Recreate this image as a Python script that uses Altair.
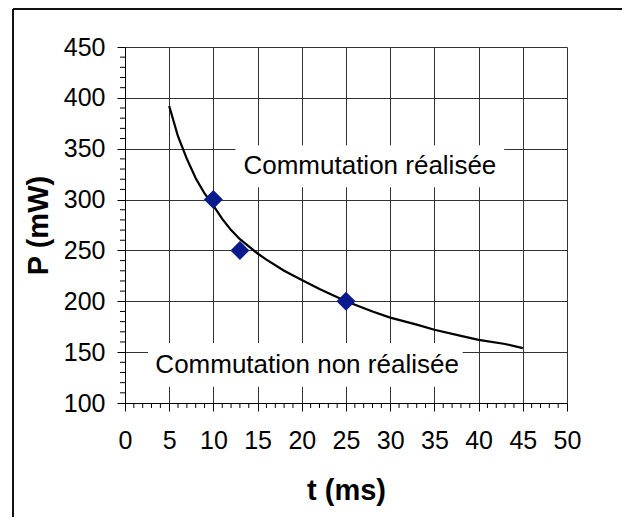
import altair as alt
import pandas as pd

# ---- data ----
t_curve = [5, 6, 7, 8, 9, 10, 11, 12, 13, 14, 15, 16, 18, 20, 22, 25, 28, 30, 33, 35, 38, 40, 43, 45]
p_curve = [392, 362, 340, 321, 306, 294, 281, 270, 261, 254, 247, 241, 230, 221, 212, 200, 190, 184, 177, 172, 166, 162, 158, 154]

t_meas = [10, 13, 25]
p_meas = [300, 250, 200]

x_ticks = [0, 5, 10, 15, 20, 25, 30, 35, 40, 45, 50]
y_ticks = [100, 150, 200, 250, 300, 350, 400, 450]
x_minor = [v for v in range(0, 51) if v % 5]
y_minor = [v for v in range(100, 451, 10) if v % 50]

labels = ["Commutation réalisée", "Commutation non réalisée"]
label_t = [27.7, 20.6]
label_p = [333, 137]
box_t1 = [12.5, 2.6]
box_t2 = [42.9, 38.2]
box_p1 = [312, 116]
box_p2 = [353.5, 159]

FONT = "Liberation Sans"

curve_df = pd.DataFrame({"t": t_curve, "p": p_curve})
meas_df = pd.DataFrame({"t": t_meas, "p": p_meas})
lab_df = pd.DataFrame({"label": labels, "t": label_t, "p": label_p})
box_df = pd.DataFrame({"t": box_t1, "t2": box_t2, "p": box_p1, "p2": box_p2})
xm_df = pd.DataFrame({"t": x_minor})
ym_df = pd.DataFrame({"p": y_minor})

xscale = alt.Scale(domain=[0, 50], nice=False, zero=False)
yscale = alt.Scale(domain=[100, 450], nice=False, zero=False)

xaxis = alt.Axis(values=x_ticks, grid=True, gridColor="#333333", gridWidth=1, gridOpacity=1,
                 tickSize=8, tickColor="#000", tickWidth=1, domainColor="#000", domainWidth=1,
                 labelFontSize=25, labelFont=FONT, labelColor="#000", labelPadding=17,
                 labelFlush=False, labelOverlap=False,
                 title="t (ms)", titleFont=FONT, titleFontSize=29, titleFontWeight="bold",
                 titleColor="#000", titleBaseline="middle", titleY=87)
yaxis = alt.Axis(values=y_ticks, grid=True, gridColor="#333333", gridWidth=1, gridOpacity=1,
                 tickSize=8, tickColor="#000", tickWidth=1, domainColor="#000", domainWidth=1,
                 labelFontSize=25, labelFont=FONT, labelColor="#000", labelPadding=12,
                 labelFlush=False, labelOverlap=False,
                 title="P (mW)", titleFont=FONT, titleFontSize=29, titleFontWeight="bold",
                 titleColor="#000", titleAngle=270, titleBaseline="middle", titleX=-87, titleY=178)

W, H = 442, 356

curve = alt.Chart(curve_df).mark_line(color="#000", strokeWidth=2.25).encode(
    x=alt.X("t:Q", scale=xscale, axis=xaxis),
    y=alt.Y("p:Q", scale=yscale, axis=yaxis),
)

boxes = alt.Chart(box_df).mark_rect(color="white", opacity=1).encode(
    x=alt.X("t:Q", scale=xscale), x2="t2:Q",
    y=alt.Y("p:Q", scale=yscale), y2="p2:Q",
)

points = alt.Chart(meas_df).mark_point(shape="diamond", filled=True, size=360,
                                       color="#0A1A8C", opacity=1).encode(
    x=alt.X("t:Q", scale=xscale),
    y=alt.Y("p:Q", scale=yscale),
)

texts = alt.Chart(lab_df).mark_text(font=FONT, fontSize=26, color="#000",
                                    baseline="middle", align="center").encode(
    x=alt.X("t:Q", scale=xscale),
    y=alt.Y("p:Q", scale=yscale),
    text="label:N",
)

xminor = alt.Chart(xm_df).mark_rule(color="#000", strokeWidth=1).encode(
    x=alt.X("t:Q", scale=xscale),
    y=alt.value(H), y2=alt.value(H + 5),
)
yminor = alt.Chart(ym_df).mark_rule(color="#000", strokeWidth=1).encode(
    y=alt.Y("p:Q", scale=yscale),
    x=alt.value(-5), x2=alt.value(0),
)

dummy = alt.Data(values=[{"a": 1}])
frame_left = alt.Chart(dummy).mark_rule(color="#111", strokeWidth=2).encode(
    x=alt.value(-112), y=alt.value(-38), y2=alt.value(H + 120),
)
frame_top = alt.Chart(dummy).mark_rule(color="#111", strokeWidth=2).encode(
    x=alt.value(-112), x2=alt.value(W + 60), y=alt.value(-38),
)

chart = alt.layer(boxes, curve, points, texts, xminor, yminor, frame_left, frame_top).properties(
    width=W, height=H,
    autosize=alt.AutoSizeParams(type="none"),
    padding={"left": 117, "top": 39, "right": 55, "bottom": 114},
    background="white",
).configure_view(stroke=None)

chart.save("out.html", embed_options={"renderer": "svg", "actions": False})
